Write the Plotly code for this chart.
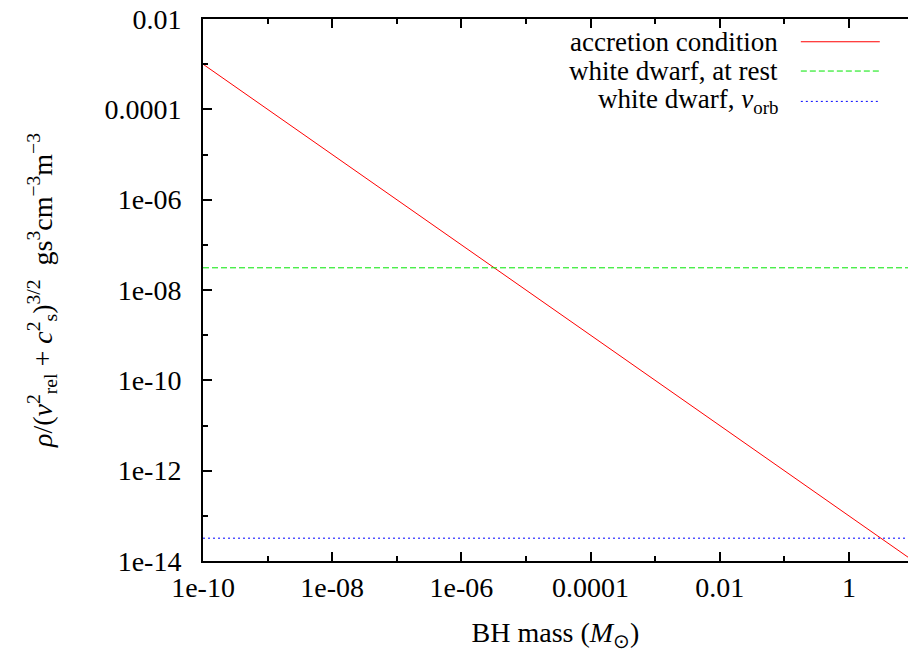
import plotly.graph_objects as go

# BH mass range (solar masses)
mass = [1e-10, 10.0]
# accretion condition: rho/(v^2+c^2)^{3/2} scaling as 1/M
accretion = [1e-3, 1e-14]
# white dwarf thresholds (constant with mass)
wd_rest = [3.1e-8, 3.1e-8]
wd_orb = [3.2e-14, 3.2e-14]

x_tickvals = [1e-10, 1e-8, 1e-6, 1e-4, 1e-2, 1]
x_ticktext = ["1e-10", "1e-08", "1e-06", "0.0001", "0.01", "1"]
x_minor = [1e-9, 1e-7, 1e-5, 1e-3, 1e-1, 10]
y_tickvals = [1e-14, 1e-12, 1e-10, 1e-8, 1e-6, 1e-4, 1e-2]
y_ticktext = ["1e-14", "1e-12", "1e-10", "1e-08", "1e-06", "0.0001", "0.01"]
y_minor = [1e-13, 1e-11, 1e-9, 1e-7, 1e-5, 1e-3]

series = [
    ("accretion condition", accretion, "#ff0000", "solid"),
    ("white dwarf, at rest", wd_rest, "#00e600", "6px,3px"),
    ("white dwarf, <i>v</i><sub>orb</sub>", wd_orb, "#0000ff", "2px,3px"),
]

FONT = "Liberation Serif"
SIZE = 28

fig = go.Figure()
for name, vals, color, dash in series:
    fig.add_trace(go.Scatter(x=mass, y=vals, mode="lines", name=name,
                             line=dict(color=color, width=1, dash=dash),
                             showlegend=False))

# key in the top-right corner: right-aligned text with a line sample after it
key_y = [0.958, 0.904, 0.848]
for (name, vals, color, dash), ky in zip(series, key_y):
    fig.add_annotation(x=0.819, y=ky, xref="paper", yref="paper", text=name,
                       showarrow=False, xanchor="right", yanchor="middle",
                       font=dict(family=FONT, size=27, color="black"))
    fig.add_shape(type="line", xref="paper", yref="paper",
                  x0=0.848, x1=0.96, y0=ky, y1=ky,
                  line=dict(color=color, width=1, dash=dash))

axis_common = dict(
    type="log", showgrid=False, zeroline=False, showline=True,
    linecolor="black", linewidth=2, ticks="inside", ticklen=9,
    tickcolor="black", tickwidth=1.5,
    tickfont=dict(family=FONT, size=SIZE, color="black"),
)

fig.update_xaxes(
    **axis_common, range=[-10, 0.915], mirror="allticks",
    tickvals=x_tickvals, ticktext=x_ticktext, ticklabelstandoff=0,
    minor=dict(tickvals=x_minor, ticks="inside", ticklen=5,
               tickcolor="black", tickwidth=1.5),
    title=dict(text="BH mass (<i>M</i><sub>⊙</sub>)", standoff=22,
               font=dict(family=FONT, size=SIZE, color="black")),
)
fig.update_yaxes(
    **axis_common, range=[-14, -2], mirror=False,
    tickvals=y_tickvals, ticktext=y_ticktext, ticklabelstandoff=14,
    minor=dict(tickvals=y_minor, ticks="inside", ticklen=5,
               tickcolor="black", tickwidth=1.5),
    title=dict(text="<i>ρ</i>/(<i>v</i><sup>2</sup><sub>rel</sub> + <i>c</i><sup>2</sup><sub>s</sub>)<sup>3/2</sup>  gs<sup>3</sup>cm<sup>−3</sup>m<sup>−3</sup>",
               standoff=44, font=dict(family=FONT, size=SIZE, color="black")),
)

fig.update_layout(
    width=908, height=652,
    margin=dict(l=203, r=0, t=19, b=91),
    paper_bgcolor="white", plot_bgcolor="white",
    font=dict(family=FONT, color="black"),
)

fig.write_html("out.html")
